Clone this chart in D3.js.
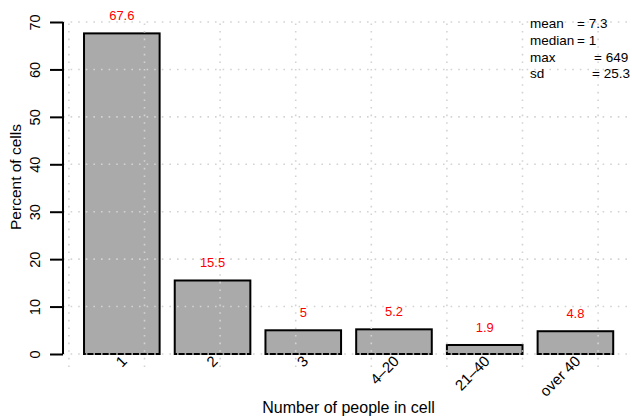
<!DOCTYPE html>
<html>
<head>
<meta charset="utf-8">
<script src="https://cdn.jsdelivr.net/npm/d3@7"></script>
<style>
  html, body { margin: 0; padding: 0; background: #fff; }
  svg { display: block; font-family: "Liberation Sans", Arial, sans-serif; }
</style>
</head>
<body>
<svg id="chart" width="632" height="417"></svg>
<script>
const categories = ["1", "2", "3", "4\u201320", "21\u201340", "over 40"];
const values = [67.6, 15.5, 5, 5.2, 1.9, 4.8];
const yTicks = [0, 10, 20, 30, 40, 50, 60, 70];
const xGrid = [0, 1, 2, 3, 4, 5, 6, 7];
const statLabels = ["mean", "median", "max", "sd"];
const statValues = ["= 7.3", "= 1", "= 649", "= 25.3"];

const svg = d3.select("#chart");

// R barplot user coordinates: bars at 0.2 + i*1.2, width 1
const x = d3.scaleLinear().domain([0, 7]).range([68.9, 598.1]);
const y = d3.scaleLinear().domain([0, 70]).range([354, 22]);
const barW = x(1) - x(0);

// bars
svg.append("g").selectAll("rect").data(values).join("rect")
  .attr("x", (d, i) => x(0.2 + i * 1.2))
  .attr("y", d => y(d))
  .attr("width", barW)
  .attr("height", d => y(0) - y(d))
  .attr("fill", "#aaaaaa")
  .attr("stroke", "#000")
  .attr("stroke-width", 2);

// grid (drawn on top, as in R grid())
const grid = svg.append("g")
  .attr("stroke", "#d3d3d3")
  .attr("stroke-width", 1.6)
  .attr("stroke-dasharray", "1.6 6")
  .attr("fill", "none");
grid.selectAll("line.h").data(yTicks).join("line")
  .attr("class", "h")
  .attr("x1", 63).attr("x2", 634)
  .attr("y1", d => y(d)).attr("y2", d => y(d));
grid.selectAll("line.v").data(xGrid).join("line")
  .attr("class", "v")
  .attr("x1", d => x(d)).attr("x2", d => x(d))
  .attr("y1", 367).attr("y2", 20);

// y axis
const yAxis = svg.append("g")
  .attr("transform", "translate(63,0)")
  .call(d3.axisLeft(y).tickValues(yTicks).tickSize(13).tickSizeOuter(0).tickPadding(0));
yAxis.select(".domain").attr("stroke", "#000").attr("stroke-width", 2)
  .attr("d", `M0,${y(0)}V${y(70)}`);
yAxis.selectAll(".tick line").attr("stroke", "#000").attr("stroke-width", 2);
yAxis.selectAll(".tick text")
  .attr("font-size", 14.5)
  .attr("font-family", "Liberation Sans, Arial, sans-serif")
  .attr("fill", "#000")
  .attr("text-anchor", "middle")
  .attr("dy", null)
  .attr("x", null)
  .attr("transform", "translate(-23,0) rotate(-90)")
  .attr("y", 0);

// x category labels
svg.append("g").selectAll("text").data(categories).join("text")
  .attr("transform", (d, i) => `translate(${x(0.2 + i * 1.2) + barW / 2 + 6},362) rotate(-45)`)
  .attr("text-anchor", "end")
  .attr("font-size", 15)
  .attr("fill", "#000")
  .text(d => d);

// value labels
svg.append("g").selectAll("text").data(values).join("text")
  .attr("x", (d, i) => x(0.2 + i * 1.2) + barW / 2)
  .attr("y", d => y(d) - 13)
  .attr("text-anchor", "middle")
  .attr("font-size", 13)
  .attr("fill", "#ff0000")
  .text(d => d);

// axis titles
svg.append("text")
  .attr("x", 348.6).attr("y", 413)
  .attr("text-anchor", "middle")
  .attr("font-size", 16)
  .text("Number of people in cell");
svg.append("text")
  .attr("transform", "translate(21,177) rotate(-90)")
  .attr("text-anchor", "middle")
  .attr("font-size", 15.5)
  .text("Percent of cells");

// stats legend
const eqX = [577, 577, 594, 592];
const stats = svg.append("g").attr("font-size", 13.5).attr("fill", "#000");
statLabels.forEach((lab, i) => {
  const t = stats.append("text").attr("y", 28.3 + i * 16.6);
  t.append("tspan").attr("x", 530).text(lab);
  t.append("tspan").attr("x", eqX[i]).text(statValues[i]);
});
</script>
</body>
</html>
